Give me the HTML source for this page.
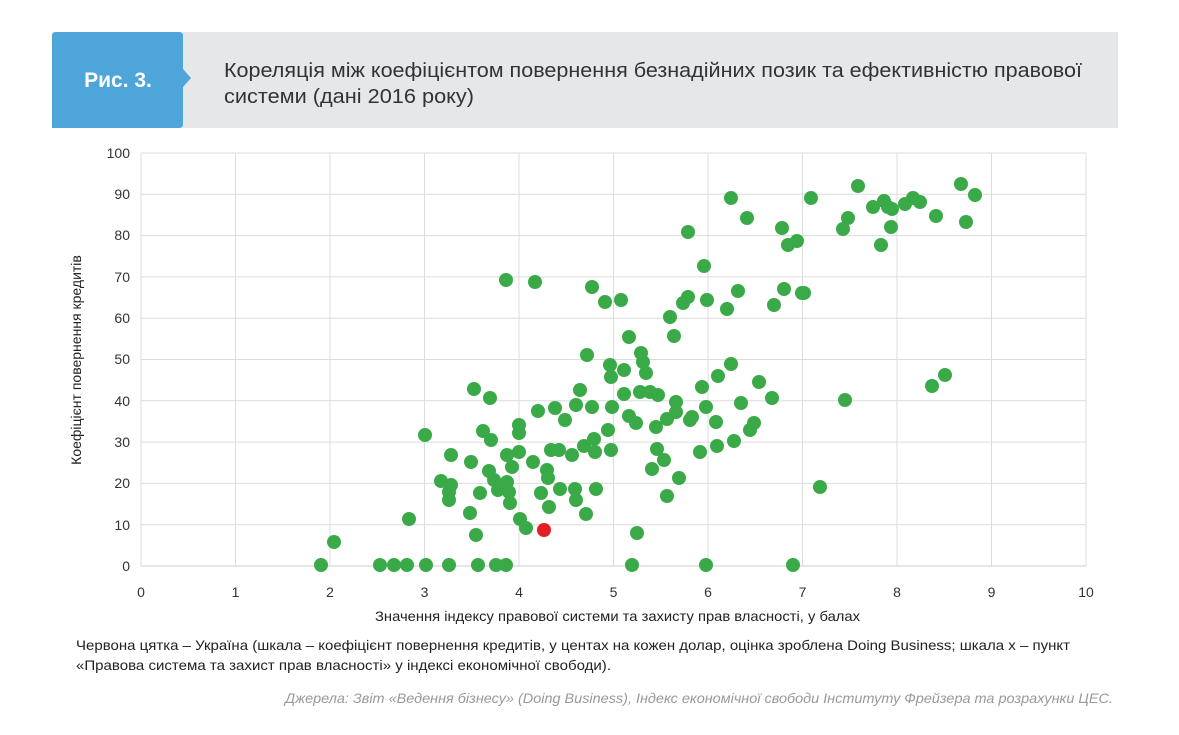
<!DOCTYPE html>
<html><head><meta charset="utf-8"><style>
body{margin:0;background:#fff;}
svg{display:block;font-family:"Liberation Sans",sans-serif;}
</style></head><body>
<svg width="1179" height="735" viewBox="0 0 1179 735" xmlns="http://www.w3.org/2000/svg">
<rect x="52" y="32" width="1066" height="96" fill="#e6e7e9"/>
<path d="M56 32 H179 Q183 32 183 36 V69 L191 78 L183 87 V124 Q183 128 179 128 H52 V36 Q52 32 56 32Z" fill="#4ea5da"/>
<text x="118" y="87" text-anchor="middle" font-size="21" font-weight="bold" fill="#fff">Рис. 3.</text>
<text x="224" y="77" font-size="20" fill="#333" textLength="858" lengthAdjust="spacingAndGlyphs">Кореляція між коефіцієнтом повернення безнадійних позик та ефективністю правової</text>
<text x="224" y="103" font-size="20" fill="#333" textLength="250" lengthAdjust="spacingAndGlyphs">системи (дані 2016 року)</text>
<g stroke="#dcdcdc" stroke-width="1">
<line x1="141" y1="153" x2="1086" y2="153"/><line x1="141" y1="194.3" x2="1086" y2="194.3"/><line x1="141" y1="235.6" x2="1086" y2="235.6"/><line x1="141" y1="276.9" x2="1086" y2="276.9"/><line x1="141" y1="318.2" x2="1086" y2="318.2"/><line x1="141" y1="359.5" x2="1086" y2="359.5"/><line x1="141" y1="400.8" x2="1086" y2="400.8"/><line x1="141" y1="442.1" x2="1086" y2="442.1"/><line x1="141" y1="483.4" x2="1086" y2="483.4"/><line x1="141" y1="524.7" x2="1086" y2="524.7"/>
<line x1="141" y1="153" x2="141" y2="566"/><line x1="235.5" y1="153" x2="235.5" y2="566"/><line x1="330" y1="153" x2="330" y2="566"/><line x1="424.5" y1="153" x2="424.5" y2="566"/><line x1="519" y1="153" x2="519" y2="566"/><line x1="613.5" y1="153" x2="613.5" y2="566"/><line x1="708" y1="153" x2="708" y2="566"/><line x1="802.5" y1="153" x2="802.5" y2="566"/><line x1="897" y1="153" x2="897" y2="566"/><line x1="991.5" y1="153" x2="991.5" y2="566"/><line x1="1086" y1="153" x2="1086" y2="566"/>
</g>
<line x1="141" y1="566" x2="1086" y2="566" stroke="#cfcfcf"/>
<g font-size="14" fill="#333" text-anchor="end">
<text x="130" y="158">100</text><text x="130" y="199">90</text><text x="130" y="240">80</text><text x="130" y="282">70</text><text x="130" y="323">60</text><text x="130" y="364">50</text><text x="130" y="406">40</text><text x="130" y="447">30</text><text x="130" y="488">20</text><text x="130" y="530">10</text><text x="130" y="571">0</text>
</g>
<g font-size="14" fill="#333" text-anchor="middle">
<text x="141" y="597">0</text><text x="235.5" y="597">1</text><text x="330" y="597">2</text><text x="424.5" y="597">3</text><text x="519" y="597">4</text><text x="613.5" y="597">5</text><text x="708" y="597">6</text><text x="802.5" y="597">7</text><text x="897" y="597">8</text><text x="991.5" y="597">9</text><text x="1086" y="597">10</text>
</g>
<text x="375" y="621" font-size="14" fill="#222" textLength="485" lengthAdjust="spacingAndGlyphs">Значення індексу правової системи та захисту прав власності, у балах</text>
<text transform="translate(81,360) rotate(-90)" font-size="14" fill="#222" text-anchor="middle">Коефіцієнт повернення кредитів</text>
<g fill="#3aaa48">
<circle cx="321" cy="565" r="7"/><circle cx="334" cy="542" r="7"/><circle cx="380" cy="565" r="7"/><circle cx="394" cy="565" r="7"/><circle cx="407" cy="565" r="7"/><circle cx="426" cy="565" r="7"/><circle cx="449" cy="565" r="7"/><circle cx="478" cy="565" r="7"/><circle cx="496" cy="565" r="7"/><circle cx="506" cy="565" r="7"/><circle cx="409" cy="519" r="7"/><circle cx="632" cy="565" r="7"/><circle cx="706" cy="565" r="7"/><circle cx="793" cy="565" r="7"/>
<circle cx="506" cy="280" r="7"/><circle cx="535" cy="282" r="7"/><circle cx="425" cy="435" r="7"/><circle cx="441" cy="481" r="7"/><circle cx="449" cy="492" r="7"/><circle cx="449" cy="500" r="7"/><circle cx="451" cy="485" r="7"/><circle cx="451" cy="455" r="7"/><circle cx="470" cy="513" r="7"/><circle cx="476" cy="535" r="7"/><circle cx="474" cy="389" r="7"/><circle cx="471" cy="462" r="7"/><circle cx="483" cy="431" r="7"/><circle cx="480" cy="493" r="7"/><circle cx="490" cy="398" r="7"/><circle cx="491" cy="440" r="7"/><circle cx="489" cy="471" r="7"/><circle cx="494" cy="480" r="7"/><circle cx="498" cy="490" r="7"/><circle cx="507" cy="482" r="7"/><circle cx="509" cy="492" r="7"/><circle cx="510" cy="503" r="7"/><circle cx="512" cy="467" r="7"/><circle cx="507" cy="455" r="7"/><circle cx="520" cy="519" r="7"/><circle cx="526" cy="528" r="7"/><circle cx="519" cy="425" r="7"/><circle cx="519" cy="433" r="7"/><circle cx="519" cy="452" r="7"/><circle cx="533" cy="462" r="7"/><circle cx="538" cy="411" r="7"/><circle cx="541" cy="493" r="7"/><circle cx="547" cy="470" r="7"/><circle cx="549" cy="507" r="7"/><circle cx="548" cy="478" r="7"/><circle cx="555" cy="408" r="7"/><circle cx="551" cy="450" r="7"/><circle cx="559" cy="450" r="7"/><circle cx="560" cy="489" r="7"/><circle cx="565" cy="420" r="7"/><circle cx="572" cy="455" r="7"/><circle cx="575" cy="489" r="7"/><circle cx="576" cy="500" r="7"/><circle cx="576" cy="405" r="7"/><circle cx="580" cy="390" r="7"/><circle cx="584" cy="446" r="7"/><circle cx="586" cy="514" r="7"/><circle cx="587" cy="355" r="7"/><circle cx="592" cy="407" r="7"/><circle cx="592" cy="287" r="7"/><circle cx="594" cy="439" r="7"/><circle cx="596" cy="489" r="7"/><circle cx="595" cy="452" r="7"/><circle cx="605" cy="302" r="7"/><circle cx="608" cy="430" r="7"/><circle cx="611" cy="450" r="7"/><circle cx="612" cy="407" r="7"/><circle cx="610" cy="365" r="7"/><circle cx="611" cy="377" r="7"/><circle cx="621" cy="300" r="7"/><circle cx="624" cy="370" r="7"/><circle cx="624" cy="394" r="7"/><circle cx="629" cy="416" r="7"/><circle cx="629" cy="337" r="7"/><circle cx="636" cy="423" r="7"/><circle cx="637" cy="533" r="7"/><circle cx="640" cy="392" r="7"/><circle cx="641" cy="353" r="7"/><circle cx="643" cy="362" r="7"/><circle cx="646" cy="373" r="7"/><circle cx="650" cy="392" r="7"/><circle cx="656" cy="427" r="7"/><circle cx="652" cy="469" r="7"/><circle cx="657" cy="449" r="7"/><circle cx="658" cy="395" r="7"/><circle cx="664" cy="460" r="7"/><circle cx="667" cy="419" r="7"/><circle cx="667" cy="496" r="7"/><circle cx="670" cy="317" r="7"/><circle cx="674" cy="336" r="7"/><circle cx="679" cy="478" r="7"/><circle cx="683" cy="303" r="7"/><circle cx="688" cy="297" r="7"/><circle cx="688" cy="232" r="7"/><circle cx="676" cy="402" r="7"/><circle cx="676" cy="412" r="7"/><circle cx="690" cy="420" r="7"/><circle cx="692" cy="417" r="7"/><circle cx="700" cy="452" r="7"/><circle cx="702" cy="387" r="7"/><circle cx="704" cy="266" r="7"/><circle cx="707" cy="300" r="7"/><circle cx="706" cy="407" r="7"/><circle cx="717" cy="446" r="7"/><circle cx="716" cy="422" r="7"/><circle cx="718" cy="376" r="7"/><circle cx="727" cy="309" r="7"/><circle cx="731" cy="198" r="7"/><circle cx="731" cy="364" r="7"/><circle cx="734" cy="441" r="7"/><circle cx="738" cy="291" r="7"/><circle cx="741" cy="403" r="7"/><circle cx="747" cy="218" r="7"/><circle cx="750" cy="430" r="7"/><circle cx="754" cy="423" r="7"/><circle cx="759" cy="382" r="7"/><circle cx="772" cy="398" r="7"/><circle cx="774" cy="305" r="7"/><circle cx="782" cy="228" r="7"/><circle cx="784" cy="289" r="7"/><circle cx="788" cy="245" r="7"/><circle cx="797" cy="241" r="7"/><circle cx="802" cy="293" r="7"/><circle cx="811" cy="198" r="7"/><circle cx="804" cy="293" r="7"/><circle cx="820" cy="487" r="7"/><circle cx="843" cy="229" r="7"/><circle cx="845" cy="400" r="7"/><circle cx="848" cy="218" r="7"/><circle cx="858" cy="186" r="7"/><circle cx="873" cy="207" r="7"/><circle cx="881" cy="245" r="7"/><circle cx="884" cy="201" r="7"/><circle cx="888" cy="207" r="7"/><circle cx="891" cy="227" r="7"/><circle cx="892" cy="209" r="7"/><circle cx="905" cy="204" r="7"/><circle cx="913" cy="198" r="7"/><circle cx="920" cy="202" r="7"/><circle cx="932" cy="386" r="7"/><circle cx="936" cy="216" r="7"/><circle cx="945" cy="375" r="7"/><circle cx="961" cy="184" r="7"/><circle cx="966" cy="222" r="7"/><circle cx="975" cy="195" r="7"/>
</g>
<circle cx="544" cy="530" r="7" fill="#e31e24"/>
<text x="76" y="650" font-size="14" fill="#222" textLength="994" lengthAdjust="spacingAndGlyphs">Червона цятка  – Україна (шкала – коефіцієнт повернення кредитів, у центах на кожен долар, оцінка зроблена Doing Business; шкала х – пункт</text>
<text x="76" y="670" font-size="14" fill="#222" textLength="535" lengthAdjust="spacingAndGlyphs">«Правова система та захист прав власності» у індексі економічної свободи).</text>
<text x="285" y="703" font-size="14" font-style="italic" fill="#999" textLength="828" lengthAdjust="spacingAndGlyphs">Джерела: Звіт «Ведення бізнесу» (Doing Business), Індекс економічної свободи Інституту Фрейзера та розрахунки ЦЕС.</text>
</svg>
</body></html>
